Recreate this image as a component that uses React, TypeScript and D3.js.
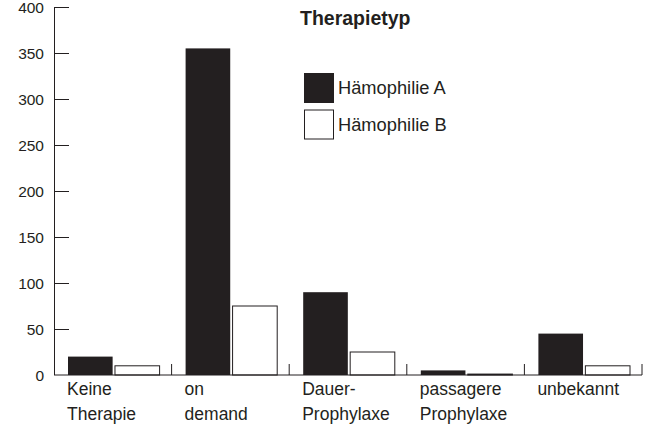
import { useMemo } from 'react'
import * as d3 from 'd3'

const WIDTH = 648
const HEIGHT = 424
const MARGIN = { top: 7, right: 6, bottom: 49, left: 54 }
const INK = '#231f20'
const FONT = '"Liberation Sans", Arial, Helvetica, sans-serif'

const categories = [
  ['Keine', 'Therapie'],
  ['on', 'demand'],
  ['Dauer-', 'Prophylaxe'],
  ['passagere', 'Prophylaxe'],
  ['unbekannt'],
]
const haemophiliaA = [20, 355, 90, 5, 45]
const haemophiliaB = [10, 75, 25, 1, 10]
const yTicks = [0, 50, 100, 150, 200, 250, 300, 350, 400]
const series = [
  { name: 'Hämophilie A', values: haemophiliaA, fill: INK },
  { name: 'Hämophilie B', values: haemophiliaB, fill: '#ffffff' },
]

export default function App() {
  const innerW = WIDTH - MARGIN.left - MARGIN.right
  const innerH = HEIGHT - MARGIN.top - MARGIN.bottom

  const x = useMemo(
    () => d3.scaleBand<number>().domain(d3.range(categories.length)).range([0, innerW]).padding(0),
    [innerW]
  )
  const y = useMemo(() => d3.scaleLinear().domain([0, 400]).range([innerH, 0]), [innerH])

  // inner band for the two bars of each group
  const inner = d3
    .scaleBand<number>()
    .domain([0, 1])
    .range([14, x.bandwidth() - 12])
    .paddingInner(0.05)

  return (
    <svg
      width={WIDTH}
      height={HEIGHT}
      style={{ position: 'absolute', left: 0, top: 0, background: '#fff' }}
      fontFamily={FONT}
    >
      <g transform={`translate(${MARGIN.left},${MARGIN.top})`}>
        {/* bars */}
        {categories.map((_, ci) =>
          series.map((s, si) => {
            const v = s.values[ci]
            const bx = x(ci)! + inner(si)!
            return (
              <rect
                key={`${ci}-${si}`}
                x={bx}
                y={y(v)}
                width={inner.bandwidth()}
                height={innerH - y(v)}
                fill={s.fill}
                stroke={INK}
                strokeWidth={si === 1 ? 1 : 0}
              />
            )
          })
        )}

        {/* y axis, ticks pointing inward */}
        <line x1={0.5} x2={0.5} y1={0} y2={innerH} stroke={INK} strokeWidth={1} />
        {yTicks.map(t => (
          <g key={t} transform={`translate(0,${Math.round(y(t)) + 0.5})`}>
            {t > 0 && <line x1={0} x2={15} stroke={INK} strokeWidth={1} />}
            <text x={-10} dy="0.35em" textAnchor="end" fontSize={15.5} fill={INK}>
              {t}
            </text>
          </g>
        ))}

        {/* x axis */}
        <line x1={0} x2={innerW} y1={innerH} y2={innerH} stroke={INK} strokeWidth={1} />
        {categories.map((_, ci) => (
          <line
            key={ci}
            x1={x(ci)! + x.bandwidth()}
            x2={x(ci)! + x.bandwidth()}
            y1={innerH}
            y2={innerH - 11}
            stroke={INK}
            strokeWidth={1}
          />
        ))}
        {categories.map((lines, ci) => (
          <text key={ci} x={x(ci)! + 13} y={innerH + 20} fontSize={17.5} fill={INK}>
            {lines.map((l, li) => (
              <tspan key={li} x={x(ci)! + 13} dy={li === 0 ? 0 : 25}>
                {l}
              </tspan>
            ))}
          </text>
        ))}
      </g>

      {/* legend */}
      <text x={300} y={25} fontSize={19.5} fontWeight="bold" fill={INK}>
        Therapietyp
      </text>
      {series.map((s, i) => (
        <g key={s.name} transform={`translate(304,${73 + i * 36.5})`}>
          <rect x={0.5} y={0.5} width={29} height={29} fill={s.fill} stroke={INK} strokeWidth={1} />
          <text x={34} y={15} dy="0.35em" fontSize={18.3} fill={INK}>
            {s.name}
          </text>
        </g>
      ))}
    </svg>
  )
}
